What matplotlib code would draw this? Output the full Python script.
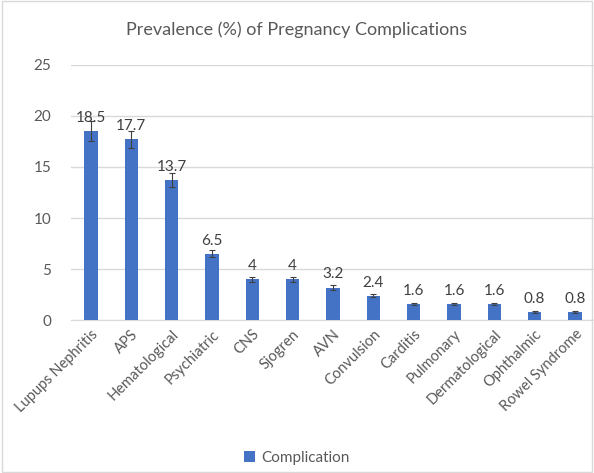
import numpy as np
import matplotlib.pyplot as plt

plt.rcParams['font.family'] = ['Lato', 'DejaVu Sans']

categories = ["Lupups Nephritis", "APS", "Hematological", "Psychiatric", "CNS", "Sjogren",
              "AVN", "Convulsion", "Carditis", "Pulmonary", "Dermatological", "Ophthalmic",
              "Rowel Syndrome"]
values = [18.5, 17.7, 13.7, 6.5, 4, 4, 3.2, 2.4, 1.6, 1.6, 1.6, 0.8, 0.8]
errors = [1.0, 0.85, 0.7, 0.35, 0.25, 0.25, 0.2, 0.15, 0.1, 0.1, 0.1, 0.08, 0.08]
labels = ["18.5", "17.7", "13.7", "6.5", "4", "4", "3.2", "2.4", "1.6", "1.6", "1.6", "0.8", "0.8"]

fig = plt.figure(figsize=(5.94, 4.73), dpi=100)
ax = fig.add_axes([0.119, 0.323, 0.883, 0.54])

x = np.arange(len(categories))
bars = ax.bar(x, values, width=0.33, color="#4472C4", zorder=3, label="Complication")
ax.errorbar(x, values, yerr=errors, fmt="none", ecolor="#404040", elinewidth=0.8,
            capsize=2.5, capthick=0.8, zorder=4)
for xi, v, lab in zip(x, values, labels):
    ax.text(xi, v + 0.6, lab, ha="center", va="bottom", fontsize=11, color="#404040", zorder=5)

ax.set_xlim(-0.5, len(categories) - 0.5)
ax.set_ylim(0, 25)
ax.set_yticks([0, 5, 10, 15, 20, 25])
ax.yaxis.grid(True, color="#D9D9D9", linewidth=1)
ax.set_axisbelow(True)
for s in ["top", "right", "left"]:
    ax.spines[s].set_visible(False)
ax.spines["bottom"].set_color("#D9D9D9")
ax.tick_params(axis="y", length=0, labelsize=11, labelcolor="#595959", pad=14)
ax.tick_params(axis="x", length=0, labelsize=10.5, labelcolor="#595959", pad=5)
ax.set_xticks(x)
ax.set_xticklabels(categories, rotation=45, ha="right", rotation_mode="anchor")

fig.suptitle("Prevalence (%) of Pregnancy Complications", y=0.955, fontsize=13, color="#595959")
fig.legend(handles=[bars], labels=["Complication"], loc="center", bbox_to_anchor=(0.5, 0.032),
           frameon=False, fontsize=11, handlelength=0.7, handleheight=0.7,
           handletextpad=0.4, labelcolor="#595959")

fig.patches.append(plt.Rectangle((0.003, 0.003), 0.994, 0.994, transform=fig.transFigure,
                                 fill=False, edgecolor="#D9D9D9", linewidth=1))
fig.savefig("out.png", dpi=100)
